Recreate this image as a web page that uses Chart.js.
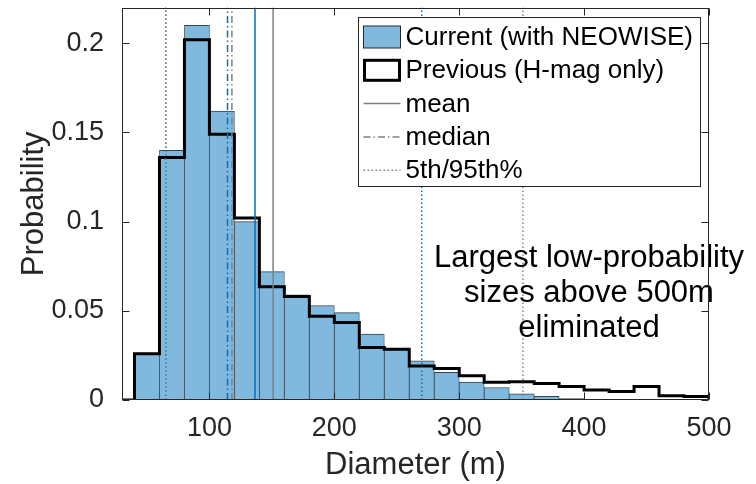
<!DOCTYPE html>
<html>
<head>
<meta charset="utf-8">
<script src="https://cdn.jsdelivr.net/npm/chart.js@4.4.1/dist/chart.umd.min.js"></script>
<style>
  html, body { margin: 0; padding: 0; background: #fff; }
  #wrap { width: 756px; height: 484px; }
</style>
</head>
<body>
<div id="wrap"><canvas id="chart" width="756" height="484"></canvas></div>
<script>
const binEdges = [40, 60, 80, 100, 120, 140, 160, 180, 200, 220, 240, 260, 280, 300, 320, 340, 360, 380, 400, 420, 440, 460, 480, 500];
const currentProb = [0.026, 0.140, 0.210, 0.162, 0.100, 0.072, 0.059, 0.053, 0.049, 0.037, 0.029, 0.022,
  0.0155, 0.010, 0.007, 0.0035, 0.002, 0.0008, 0.0004, 0.0003, 0.0002, 0.0002, 0.0004];
const previousProb = [0.026, 0.136, 0.202, 0.149, 0.102, 0.0635, 0.058, 0.047, 0.0435, 0.0295, 0.0284, 0.019,
  0.0177, 0.0136, 0.0099, 0.0103, 0.0093, 0.0075, 0.0056, 0.0047, 0.0075, 0.0024, 0.0019];

// p5, median, mean, p95
const currentStats = [65, 114.5, 136.5, 270];
const previousStats = [65, 118, 151, 351];

const xTicks = [100, 200, 300, 400, 500];
const yTicks = [0, 0.05, 0.1, 0.15, 0.2];
const yTickLabels = ['0', '0.05', '0.1', '0.15', '0.2'];
const legendLabels = ['Current (with NEOWISE)', 'Previous (H-mag only)', 'mean', 'median', '5th/95th%'];
const noteLines = ['Largest low-probability', 'sizes above 500m', 'eliminated'];

const xMin = 30, xMax = 500, yMin = 0, yMax = 0.22;
const BLUE = '#0072BD', GRAY = '#808080', FILL = '#80B8DE', AXIS = '#262626';
const DOT = [1.5, 2.5], DASHDOT = [7, 3, 1.5, 3];

Chart.defaults.font.family = '"Liberation Sans", Arial, Helvetica, sans-serif';

function vline(x, color, dash) {
  return {
    type: 'line',
    data: [{ x: x, y: yMin }, { x: x, y: yMax }],
    borderColor: color,
    borderDash: dash,
    borderWidth: 1.5,
    pointRadius: 0,
    order: 1
  };
}

const barData = currentProb.map((v, i) => ({ x: (binEdges[i] + binEdges[i + 1]) / 2, y: v }));
const stepData = [{ x: xMin, y: 0 }]
  .concat(previousProb.map((v, i) => ({ x: binEdges[i], y: v })))
  .concat([{ x: binEdges[binEdges.length - 1], y: 0 }]);

const frame = {
  id: 'frame',
  afterDatasetsDraw(chart) {
    const { ctx, chartArea: a, scales } = chart;
    const x = scales.x, y = scales.y;
    ctx.save();

    // annotation
    ctx.fillStyle = '#000';
    ctx.font = '31px "Liberation Sans", Arial, sans-serif';
    ctx.textAlign = 'center';
    ctx.textBaseline = 'middle';
    noteLines.forEach((t, i) => ctx.fillText(t, a.right - 120, a.top + 251 + i * 35));

    // box + inward ticks
    ctx.strokeStyle = AXIS;
    ctx.lineWidth = 1;
    ctx.setLineDash([]);
    const L = Math.round(a.left) + 0.5, R = Math.round(a.right) - 0.5;
    const T = Math.round(a.top) + 0.5, B = Math.round(a.bottom) - 0.5;
    ctx.strokeRect(L, T, R - L, B - T);
    ctx.beginPath();
    yTicks.forEach(v => {
      const py = Math.round(y.getPixelForValue(v)) + 0.5;
      ctx.moveTo(L, py); ctx.lineTo(L + 7, py);
      ctx.moveTo(R, py); ctx.lineTo(R - 7, py);
    });
    xTicks.forEach(v => {
      const px = Math.round(x.getPixelForValue(v)) + 0.5;
      ctx.moveTo(px, B); ctx.lineTo(px, B - 7);
      ctx.moveTo(px, T); ctx.lineTo(px, T + 7);
    });
    ctx.stroke();

    // legend
    const lw = 342, lh = 169;
    const lx = Math.round(a.right) - 351 + 0.5, ly = Math.round(a.top) + 9.5;
    ctx.fillStyle = '#fff';
    ctx.fillRect(lx, ly, lw, lh);
    ctx.strokeStyle = AXIS;
    ctx.strokeRect(lx, ly, lw, lh);
    const sx = lx + 5, sw = 37;
    legendLabels.forEach((t, i) => {
      const cy = ly + 19.5 + i * 33.3;
      ctx.save();
      if (i === 0) {
        ctx.fillStyle = FILL;
        ctx.fillRect(sx, cy - 11, sw, 22);
        ctx.strokeStyle = AXIS;
        ctx.lineWidth = 1;
        ctx.strokeRect(sx, cy - 11, sw, 22);
      } else if (i === 1) {
        ctx.strokeStyle = '#000';
        ctx.lineWidth = 3;
        ctx.strokeRect(sx + 1, cy - 10, sw - 2, 20);
      } else {
        ctx.strokeStyle = GRAY;
        ctx.lineWidth = 1.5;
        ctx.setLineDash(i === 2 ? [] : (i === 3 ? DASHDOT : DOT));
        ctx.beginPath();
        ctx.moveTo(sx, cy); ctx.lineTo(sx + sw, cy);
        ctx.stroke();
      }
      ctx.restore();
      ctx.fillStyle = '#000';
      ctx.font = '26px "Liberation Sans", Arial, sans-serif';
      ctx.textAlign = 'left';
      ctx.textBaseline = 'middle';
      ctx.fillText(t, sx + sw + 5, cy + 1);
    });
    ctx.restore();
  }
};

const ctx = document.getElementById('chart').getContext('2d');
const chart = new Chart(ctx, {
  type: 'bar',
  data: {
    datasets: [
      {
        type: 'bar',
        label: legendLabels[0],
        data: barData,
        backgroundColor: FILL,
        borderColor: '#33444f',
        borderWidth: { top: 1, left: 0.8, right: 0.8, bottom: 0 },
        barPercentage: 1,
        categoryPercentage: 1,
        grouped: false,
        order: 3
      },
      {
        type: 'line',
        label: legendLabels[1],
        data: stepData,
        stepped: 'before',
        borderColor: '#000',
        borderWidth: 3,
        pointRadius: 0,
        fill: false,
        order: 2
      },
      vline(previousStats[0], GRAY, DOT),
      vline(previousStats[1], GRAY, DASHDOT),
      vline(previousStats[2], GRAY, []),
      vline(previousStats[3], GRAY, DOT),
      vline(currentStats[0], BLUE, DOT),
      vline(currentStats[1], BLUE, DASHDOT),
      vline(currentStats[2], BLUE, []),
      vline(currentStats[3], BLUE, DOT)
    ]
  },
  options: {
    responsive: false,
    animation: false,
    events: [],
    layout: { padding: { left: 0, right: 47, top: 7.6, bottom: 0 } },
    plugins: {
      legend: { display: false },
      tooltip: { enabled: false }
    },
    scales: {
      x: {
        type: 'linear',
        min: xMin,
        max: xMax,
        offset: false,
        grid: { display: false },
        border: { display: false },
        ticks: { color: AXIS, font: { size: 27 }, padding: 4, maxRotation: 0 },
        afterBuildTicks: s => { s.ticks = xTicks.map(v => ({ value: v })); },
        afterFit: s => { s.height = 84; s.paddingLeft = 0; s.paddingRight = 0; },
        title: { display: true, text: 'Diameter (m)', color: AXIS, font: { size: 31 }, padding: 0 }
      },
      y: {
        min: yMin,
        max: yMax,
        grid: { display: false },
        border: { display: false },
        ticks: {
          color: AXIS,
          font: { size: 27 },
          padding: 10,
          callback: (v, i) => yTickLabels[i]
        },
        afterBuildTicks: s => { s.ticks = yTicks.map(v => ({ value: v })); },
        afterFit: s => { s.width = 122; s.paddingTop = 0; s.paddingBottom = 0; },
        title: { display: true, text: 'Probability', color: AXIS, font: { size: 31 }, padding: { top: 16, bottom: 0 } }
      }
    }
  },
  plugins: [frame]
});
</script>
</body>
</html>
